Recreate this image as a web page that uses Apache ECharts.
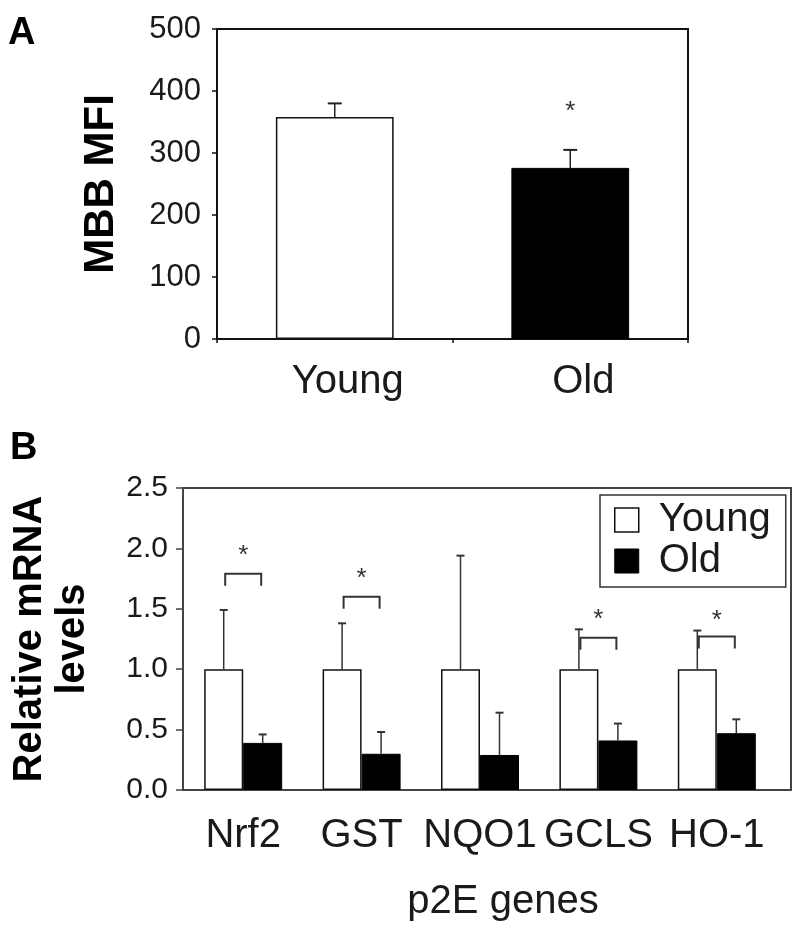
<!DOCTYPE html>
<html><head><meta charset="utf-8">
<script src="https://cdn.jsdelivr.net/npm/echarts@6/dist/echarts.min.js"></script>
<style>html,body{margin:0;padding:0;background:#fff}#c{width:800px;height:932px}</style>
</head><body><div id="c"></div>
<script>
// ---------- Panel A data ----------
const groupsA = ['Young', 'Old'];
const meansA = [358, 276];
const errTopA = [380, 305];
const starCatsA = ['Old'];
const starLevelsA = [366];
const yTicksA = { min: 0, max: 500, interval: 100 };

// ---------- Panel B data ----------
const genes = ['Nrf2', 'GST', 'NQO1', 'GCLS', 'HO-1'];
const youngMeans = [1.0, 1.0, 1.0, 1.0, 1.0];
const youngErrTop = [1.49, 1.38, 1.94, 1.33, 1.32];
const oldMeans = [0.39, 0.30, 0.29, 0.41, 0.47];
const oldErrTop = [0.46, 0.48, 0.64, 0.55, 0.585];
const sigGenes = ['Nrf2', 'GST', 'GCLS', 'HO-1'];
const bracketLevels = [1.79, 1.60, 1.26, 1.27];
const starLevelsB = [1.94, 1.75, 1.41, 1.40];
const yTicksB = { min: 0, max: 2.5, interval: 0.5 };

// ---------- styles ----------
const FONT = "'Liberation Sans', Arial, sans-serif";
const TXT = '#1a1a1a';
const whiteBar = { color: '#ffffff', borderColor: '#111', borderWidth: 1.5 };
const blackBar = { color: '#000000', borderColor: '#000', borderWidth: 1 };
const BAR_W_B = 39;

function errRender(offset, capHalf, color) {
  return function (params, api) {
    const c = api.value(0);
    const p0 = api.coord([c, api.value(1)]);
    const p1 = api.coord([c, api.value(2)]);
    const x = p0[0] + offset;
    return {
      type: 'group',
      children: [
        { type: 'line', shape: { x1: x, y1: p0[1], x2: x, y2: p1[1] }, style: { stroke: color, lineWidth: 1.5 } },
        { type: 'line', shape: { x1: x - capHalf, y1: p1[1], x2: x + capHalf, y2: p1[1] }, style: { stroke: color, lineWidth: 2 } }
      ]
    };
  };
}

function starRender(fontSize) {
  return function (params, api) {
    const p = api.coord([api.value(0), api.value(1)]);
    return { type: 'text', style: { x: p[0], y: p[1], text: '*', fontSize: fontSize, fontFamily: FONT, fill: '#333', align: 'center', verticalAlign: 'middle' } };
  };
}

function bracketRender(halfW, leg, starSize) {
  return function (params, api) {
    const c = api.value(0);
    const pb = api.coord([c, api.value(1)]);
    const ps = api.coord([c, api.value(2)]);
    const x1 = pb[0] - halfW, x2 = pb[0] + halfW, y = pb[1];
    return {
      type: 'group',
      children: [
        { type: 'polyline', shape: { points: [[x1, y + leg], [x1, y], [x2, y], [x2, y + leg]] }, style: { stroke: '#333', lineWidth: 2, fill: null } },
        { type: 'text', style: { x: pb[0], y: ps[1], text: '*', fontSize: starSize, fontFamily: FONT, fill: '#333', align: 'center', verticalAlign: 'middle' } }
      ]
    };
  };
}

const chart = echarts.init(document.getElementById('c'), null, { renderer: 'canvas' });

const option = {
  backgroundColor: '#fff',
  animation: false,
  title: [
    { text: 'A', left: 8, top: 15, padding: 0, textStyle: { fontSize: 38, fontWeight: 'bold', fontFamily: FONT, color: '#000' } },
    { text: 'B', left: 10, top: 430, padding: 0, textStyle: { fontSize: 38, fontWeight: 'bold', fontFamily: FONT, color: '#000' } }
  ],
  legend: {
    show: true,
    orient: 'vertical',
    left: 600, top: 495,
    padding: [5, 15, 6, 14],
    itemWidth: 24, itemHeight: 24, itemGap: 1,
    borderColor: '#333', borderWidth: 1.5,
    icon: 'rect',
    textStyle: { fontSize: 40, fontFamily: FONT, color: TXT, lineHeight: 40, padding: [0, 0, 0, 15] },
    data: [
      { name: 'Young', itemStyle: whiteBar },
      { name: 'Old', itemStyle: blackBar }
    ]
  },
  grid: [
    { left: 217, top: 29, width: 471, height: 310, show: true, borderColor: '#111', borderWidth: 2, backgroundColor: 'transparent' },
    { left: 167, top: 488, width: 624, height: 302, show: true, borderColor: '#444', borderWidth: 2, backgroundColor: 'transparent' },
    { left: 184, top: 488, width: 592, height: 302, show: false }
  ],
  xAxis: [
    {
      gridIndex: 0, type: 'category', data: groupsA,
      axisLine: { lineStyle: { color: '#111', width: 2 } },
      axisTick: { show: true, length: 4, lineStyle: { color: '#111', width: 1.5 } },
      axisLabel: { fontSize: 40, fontFamily: FONT, color: TXT, margin: 23, padding: [0, 0, 0, 26] }
    },
    {
      gridIndex: 1, type: 'value', min: 0, max: 1,
      axisLine: { show: true, onZero: false, lineStyle: { color: '#444', width: 2 } },
      axisTick: { show: false }, axisLabel: { show: false }, splitLine: { show: false }
    },
    {
      gridIndex: 2, type: 'category', data: genes,
      axisLine: { show: false }, axisTick: { show: false },
      axisLabel: { fontSize: 40, fontFamily: FONT, color: TXT, margin: 26, interval: 0, hideOverlap: false },
      name: 'p2E genes', nameLocation: 'middle', nameGap: 92,
      nameTextStyle: { fontSize: 40, fontFamily: FONT, color: TXT, padding: [0, 0, 0, 46] }
    }
  ],
  yAxis: [
    {
      gridIndex: 0, type: 'value', min: yTicksA.min, max: yTicksA.max, interval: yTicksA.interval,
      axisLine: { show: true, lineStyle: { color: '#111', width: 2 } },
      axisTick: { show: true, length: 5, lineStyle: { color: '#111', width: 1.5 } },
      axisLabel: { fontSize: 31, fontFamily: FONT, color: TXT, margin: 16 },
      splitLine: { show: false },
      name: 'MBB MFI', nameLocation: 'middle', nameGap: 95,
      nameTextStyle: { fontSize: 42, fontWeight: 'bold', fontFamily: FONT, color: '#000' }
    },
    {
      gridIndex: 1, type: 'value', min: yTicksB.min, max: yTicksB.max, interval: yTicksB.interval,
      axisLine: { show: true, lineStyle: { color: '#444', width: 2 } },
      axisTick: { show: true, length: 7, lineStyle: { color: '#444', width: 1.5 } },
      axisLabel: { fontSize: 30, fontFamily: FONT, color: TXT, margin: 15, formatter: v => v.toFixed(1) },
      splitLine: { show: false },
      name: 'Relative mRNA\nlevels', nameLocation: 'middle', nameGap: 89,
      nameTextStyle: { fontSize: 40, fontWeight: 'bold', fontFamily: FONT, color: '#000', lineHeight: 43 }
    },
    {
      gridIndex: 2, type: 'value', min: yTicksB.min, max: yTicksB.max, show: false, splitLine: { show: false }
    }
  ],
  series: [
    {
      type: 'bar', xAxisIndex: 0, yAxisIndex: 0, barWidth: '50%',
      data: meansA.map((v, i) => ({ value: v, itemStyle: i === 0 ? whiteBar : blackBar })),
      z: 2
    },
    {
      type: 'custom', xAxisIndex: 0, yAxisIndex: 0, z: 5,
      renderItem: errRender(0, 7, '#222'),
      data: meansA.map((v, i) => [i, v, errTopA[i]])
    },
    {
      type: 'custom', xAxisIndex: 0, yAxisIndex: 0, z: 5,
      renderItem: starRender(26),
      data: starCatsA.map((c, i) => [groupsA.indexOf(c), starLevelsA[i]])
    },
    {
      name: 'Young', type: 'bar', xAxisIndex: 2, yAxisIndex: 2, barWidth: BAR_W_B, barGap: '0%',
      itemStyle: whiteBar, data: youngMeans, z: 2
    },
    {
      name: 'Old', type: 'bar', xAxisIndex: 2, yAxisIndex: 2, barWidth: BAR_W_B, barGap: '0%',
      itemStyle: blackBar, data: oldMeans, z: 2
    },
    {
      type: 'custom', xAxisIndex: 2, yAxisIndex: 2, z: 5,
      renderItem: errRender(-BAR_W_B / 2, 4, '#333'),
      data: youngMeans.map((v, i) => [i, v, youngErrTop[i]])
    },
    {
      type: 'custom', xAxisIndex: 2, yAxisIndex: 2, z: 5,
      renderItem: errRender(BAR_W_B / 2, 4, '#333'),
      data: oldMeans.map((v, i) => [i, v, oldErrTop[i]])
    },
    {
      type: 'custom', xAxisIndex: 2, yAxisIndex: 2, z: 5,
      renderItem: bracketRender(18, 12, 26),
      data: sigGenes.map((g, i) => [genes.indexOf(g), bracketLevels[i], starLevelsB[i]])
    }
  ]
};
chart.setOption(option);
</script>
</body></html>
